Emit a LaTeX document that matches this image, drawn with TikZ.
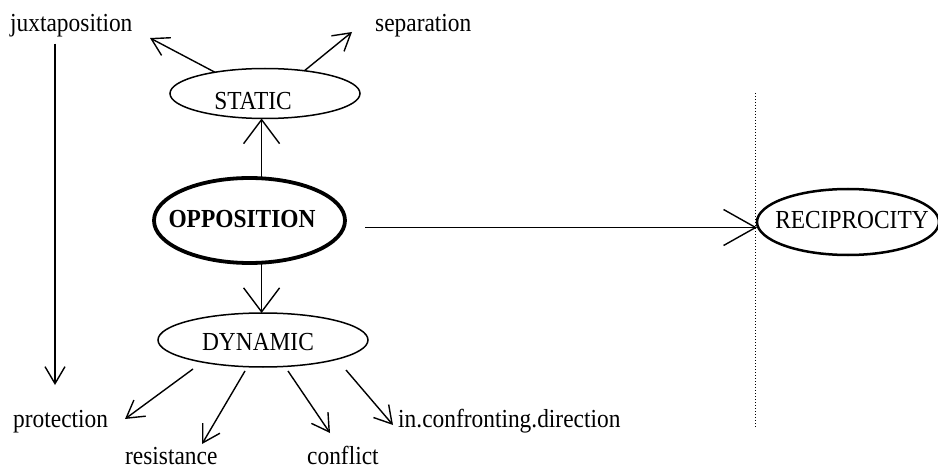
\documentclass[tikz,border=0pt]{standalone}
\usepackage{fontspec}
\setmainfont[FakeStretch=0.9]{Liberation Serif}
\usetikzlibrary{shapes.geometric,arrows.meta,calc}
\begin{document}
\begin{tikzpicture}[x=1pt,y=-1pt,
  lbl/.style={font=\fontsize{26}{30}\selectfont, inner sep=0pt},
  oval/.style={ellipse, draw, line width=1.5pt, inner sep=0pt, outer sep=0pt},
  arr/.style={line width=1.4pt, -{Straight Barb[length=17pt,width=20pt]}},
  bigarr/.style={line width=1.4pt, -{Straight Barb[length=24pt,width=36pt]}},
  recarr/.style={line width=1.4pt, -{Straight Barb[length=32pt,width=36pt]}}]
\useasboundingbox (0,0) rectangle (938,468);
% texts
\node[lbl, anchor=base west] (jux) at (10,32) {juxtaposition};
\node[lbl, anchor=base west] (sep) at (375,32) {separation};
\node[lbl, anchor=base west] (prot) at (13,427) {protection};
\node[lbl, anchor=base west] (resis) at (125,464) {resistance};
\node[lbl, anchor=base west] (confl) at (307,464) {conflict};
\node[lbl, anchor=base west] (inconf) at (398,427) {in.confronting.direction};
% ovals
\node[oval, minimum width=190pt, minimum height=50pt] (static) at (265,93.5) {};
\node[oval, line width=3.8pt, minimum width=191pt, minimum height=85pt] (opp) at (249.5,220.5) {};
\node[oval, minimum width=210pt, minimum height=54pt] (dyn) at (263,340) {};
\node[oval, line width=2.5pt, minimum width=182pt, minimum height=66pt] (rec) at (848,222) {};
% oval texts
\node[lbl, anchor=base] (statict) at (253,110) {STATIC};
\node[lbl, anchor=base, font=\fontsize{26}{30}\selectfont\bfseries] (oppt) at (242,227) {OPPOSITION};
\node[lbl, anchor=base] (dynt) at (258,350) {DYNAMIC};
\node[lbl, anchor=base] (rect) at (852,229) {RECIPROCITY};
% free ends
\coordinate (jxe) at (150,38);
\coordinate (spe) at (352,32);
\coordinate (jd) at (55,385);
\coordinate (pe) at (125,419);
\coordinate (re) at (202,444);
\coordinate (ce) at (330,433);
\coordinate (ie) at (393,425);
\coordinate (dt) at (755,93);
\coordinate (db) at (755,427);
% dotted line
\draw[dotted, line width=1pt] (dt) -- (db);
% connectors
\draw[arr] (static.157) -- (jxe);
\draw[arr] (static.30) -- (spe);
\draw[bigarr] (opp.74) -- (opp.74 |- static.south);
\draw[bigarr] (opp.-74) -- (opp.-74 |- dyn.north);
\draw[arr, shorten <=6pt] (jux.south -| jd) -- (jd);
\draw[arr] ($(dyn.south)+(-70,2)$) -- (pe);
\draw[arr] ($(dyn.south)+(-18,4)$) -- (re);
\draw[arr] ($(dyn.south)+(25,4)$) -- (ce);
\draw[arr] ($(dyn.south)+(83,3)$) -- (ie);
\coordinate (hs) at ($(opp.east)+(20,7)$);
\draw[recarr] (hs) -- (rec.west |- hs);
\end{tikzpicture}
\end{document}
